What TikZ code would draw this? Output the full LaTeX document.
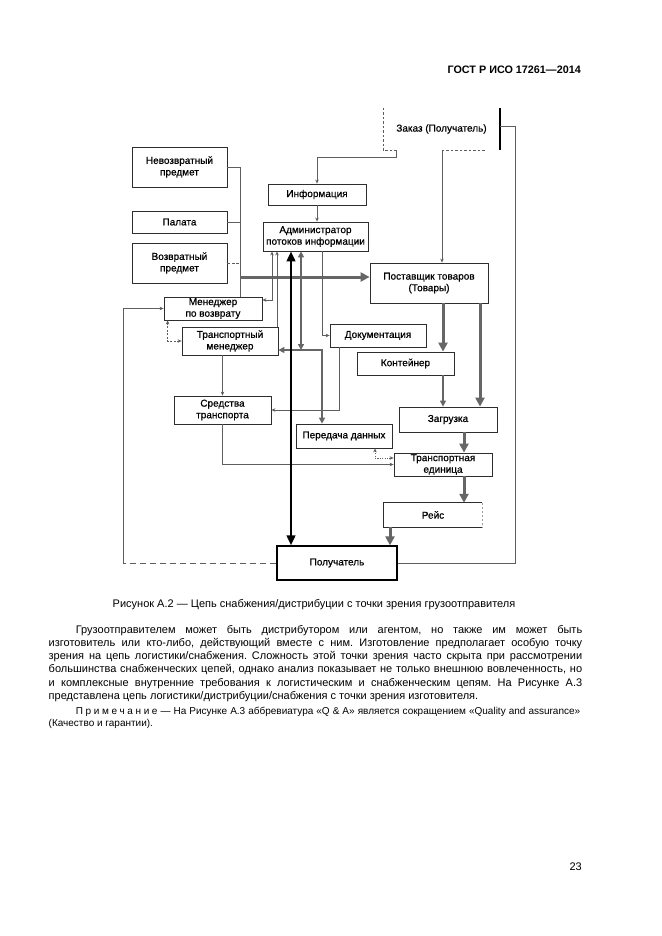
\documentclass[tikz,border=0pt]{standalone}
\usepackage{fontspec}
\setmainfont{Liberation Sans}
\newfontfamily\dfam{Liberation Sans}[FakeBold=0.7]
\usetikzlibrary{arrows.meta,calc}
\definecolor{boxc}{HTML}{2E2E2E}
\definecolor{linec}{HTML}{5E5E5E}
\definecolor{thickc}{HTML}{666666}
\newcommand\dfont{\dfam\fontsize{10}{11.6}\selectfont}
\newcommand\bodyf{\fontsize{11}{13.3}\selectfont}
\newcommand\notef{\fontsize{10}{11.5}\selectfont}
\newcommand\hdrf{\bfseries\fontsize{10.8}{13}\selectfont}
\newcommand\lsp{\kern2.6pt}
\frenchspacing
\begin{document}
\begin{tikzpicture}[x=1pt,y=-1pt,
 box/.style={draw=boxc,line width=0.8pt,inner sep=0pt,align=center,font=\dfont},
 txt/.style={inner sep=0pt},
 thinl/.style={draw=linec,line width=0.7pt},
 sarr/.style={thinl,-{Stealth[length=4pt,width=3.5pt]}},
 darr/.style={thinl,{Stealth[length=4pt,width=3.5pt]}-{Stealth[length=4pt,width=3.5pt]}},
 sarrback/.style={thinl,{Stealth[length=4pt,width=3.5pt]}-},
 blk/.style={line width=2.6pt,draw=black,{Triangle[length=10pt,width=8.5pt]}-{Triangle[length=10pt,width=8.5pt]}},
 medd/.style={line width=1.8pt,draw=thickc,{Triangle[length=6pt,width=6pt]}-{Triangle[length=6pt,width=6pt]}},
 bigg/.style={line width=3pt,draw=thickc,-{Triangle[length=9pt,width=9pt]}},
 medthin/.style={line width=1.2pt,draw=thickc,-{Triangle[length=6pt,width=6pt]}},
 gdash/.style={draw=linec,line width=0.6pt,dash pattern=on 2.5pt off 2pt}]
\fill[white] (0,0) rectangle (661,936);
\useasboundingbox (0,0) rectangle (661,936);

% ---------- boxes ----------
\node[inner sep=0pt,minimum width=117pt,minimum height=42pt,font=\dfont] (zakaz) at (441.5,129) {Заказ (Получатель)};
\node[box,minimum width=98pt,minimum height=21pt] (info) at (317,194.5) {Информация};
\node[box,minimum width=105pt,minimum height=29pt] (admin) at (315.5,236.5) {Администратор\\потоков информации};
\node[box,minimum width=95pt,minimum height=40pt] (nevoz) at (179.5,167) {Невозвратный\\предмет};
\node[box,minimum width=95pt,minimum height=22pt] (palata) at (179.5,222) {Палата};
\node[box,minimum width=95pt,minimum height=40pt] (voz) at (179.5,263) {Возвратный\\предмет};
\node[box,minimum width=118pt,minimum height=40pt] (postav) at (429,283) {Поставщик товаров\\(Товары)};
\node[box,minimum width=98pt,minimum height=23pt] (menvoz) at (213,308.5) {Менеджер\\по возврату};
\node[box,minimum width=96pt,minimum height=28pt] (transman) at (230,341) {Транспортный\\менеджер};
\node[box,minimum width=96pt,minimum height=23pt] (docum) at (378,335.5) {Документация};
\node[box,minimum width=97pt,minimum height=23pt] (kont) at (405.5,363.5) {Контейнер};
\node[box,minimum width=97pt,minimum height=28pt] (sredstva) at (222.5,410) {Средства\\транспорта};
\node[box,minimum width=96pt,minimum height=24pt] (peredacha) at (344,436) {Передача данных};
\node[box,minimum width=98pt,minimum height=25pt] (zagruz) at (448,419.5) {Загрузка};
\node[box,minimum width=98pt,minimum height=23pt] (transed) at (443,464.5) {Транспортная\\единица};
\node[inner sep=0pt,minimum width=98pt,minimum height=24pt,font=\dfont] (reis) at (433,515) {Рейс};
\node[box,draw=black,line width=1.3pt,minimum width=120pt,minimum height=34pt] (poluch) at (337,563) {Получатель};

% special borders
\draw[gdash] (zakaz.north west) -- (zakaz.south west) -- ++(15,0);
\draw[gdash] ([xshift=59pt]zakaz.south west) -- ([xshift=102pt]zakaz.south west);
\draw[line width=1.6pt,black] (zakaz.north east) -- (zakaz.south east);
\draw[draw=boxc,line width=0.8pt] (reis.north east) -- (reis.north west) -- (reis.south west) -- (reis.south east);
\draw[draw=linec!60,line width=0.6pt,dash pattern=on 2pt off 2pt] (reis.north east) -- (reis.south east);

% ---------- connectors ----------
\coordinate (a1) at ([xshift=14pt]zakaz.south west);
\draw[sarr] (a1) -- ++(0,7) -| (info.north);
\draw[sarr] (info.south) -- (info.south |- admin.north);
\coordinate (cz) at ([xshift=13pt]postav.north);
\draw[sarr] (cz |- zakaz.south) -- (cz);
\coordinate (dz) at ([yshift=3pt]zakaz.east);
\draw[thinl] (dz) -- ++(15,0) |- (poluch.east);

\coordinate (c1) at (240,167);
\draw[thinl] (nevoz.east) -- (c1);
\draw[thinl] (palata.east) -- (palata.east -| c1);
\draw[thinl,dash pattern=on 3pt off 1.5pt] (voz.east) -- (voz.east -| c1);
\draw[thinl] (c1) -- (c1 |- menvoz.north);
\coordinate (pw) at ([yshift=6pt]postav.west);
\draw[bigg] (pw -| c1) -- (pw);

\coordinate (g1) at ([xshift=-43.5pt]admin.south);
\coordinate (g2) at ([yshift=8.5pt]menvoz.east);
\draw[darr] (g1) |- (g2);
\coordinate (h1) at ([xshift=-38.5pt]admin.south);
\draw[sarrback] (h1) -- (h1 |- transman.north);
\coordinate (k1) at ([xshift=6.5pt]admin.south);
\draw[sarr] (k1) |- (docum.west);
\coordinate (l1) at ([xshift=-39pt]docum.south);
\draw[sarr] (l1) |- (sredstva.east);
\draw[sarr] (sredstva.north |- transman.south) -- (sredstva.north);
\coordinate (n1) at ([xshift=4pt]menvoz.south west);
\draw[darr,dash pattern=on 2pt off 1.5pt] (n1) |- (transman.west);
\coordinate (o1) at (123,563);
\draw[thinl,dash pattern=on 6pt off 4pt] (poluch.west) -- (o1);
\draw[sarr] (o1) |- (menvoz.west);
\draw[sarr] (sredstva.south) |- (transed.west);
\coordinate (q1) at ([xshift=31pt]peredacha.south);
\coordinate (q2) at ([yshift=6.5pt]transed.west);
\draw[darr,dash pattern=on 1.2pt off 1.2pt] (q1) |- (q2);

\coordinate (j0) at ([xshift=-14.5pt]admin.south);
\coordinate (j1) at (322,350);
\draw[medd] (j0) -- (j0 |- j1);
\draw[medd] (j1 -| transman.east) -- (j1) -- (j1 |- peredacha.north);
\coordinate (i1) at ([xshift=-24.5pt]admin.south);
\draw[blk] (i1) -- (i1 |- poluch.north);

\coordinate (r1) at ([xshift=14pt]postav.south);
\draw[bigg] (r1) -- (r1 |- kont.north);
\coordinate (s1) at ([xshift=51pt]postav.south);
\draw[bigg] (s1) -- (s1 |- zagruz.north);
\coordinate (t1) at ([xshift=37.5pt]kont.south);
\draw[medthin] (t1) -- (t1 |- zagruz.north);
\coordinate (u1) at ([xshift=16pt]zagruz.south);
\draw[bigg] (u1) -- (u1 |- transed.north);
\coordinate (v1) at ([xshift=21pt]transed.south);
\draw[bigg] (v1) -- (v1 |- reis.north);
\coordinate (w1) at ([xshift=-43pt]reis.south);
\draw[bigg] (w1) -- (w1 |- poluch.north);

% ---------- page text ----------
\node[txt,anchor=base east,font=\hdrf] (hdr) at (581,74) {ГОСТ Р ИСО 17261—2014};
\node[txt,anchor=base,font=\bodyf] (cap) at (314,607.5) {Рисунок А.2 — Цепь снабжения/дистрибуции с точки зрения грузоотправителя};
\node[txt,anchor=base west,font=\bodyf] (p1) at (75.7,633) {\makebox[506.3pt][s]{Грузоотправителем может быть дистрибутором или агентом, но также им может быть}};
\node[txt,anchor=base west,font=\bodyf] (p2) at (48.5,646.3) {\makebox[533.5pt][s]{изготовитель или кто-либо, действующий вместе с ним. Изготовление предполагает особую точку}};
\node[txt,anchor=base west,font=\bodyf] (p3) at (48.5,659.6) {\makebox[533.5pt][s]{зрения на цепь логистики/снабжения. Сложность этой точки зрения часто скрыта при рассмотрении}};
\node[txt,anchor=base west,font=\bodyf] (p4) at (48.5,672.9) {\makebox[533.5pt][s]{большинства снабженческих цепей, однако анализ показывает не только внешнюю вовлеченность, но}};
\node[txt,anchor=base west,font=\bodyf] (p5) at (48.5,686.2) {\makebox[533.5pt][s]{и комплексные внутренние требования к логистическим и снабженческим цепям. На Рисунке А.3}};
\node[txt,anchor=base west,font=\bodyf] (p6) at (48.5,699.5) {представлена цепь логистики/дистрибуции/снабжения с точки зрения изготовителя.};
\node[txt,anchor=base west,font=\notef] (n1t) at (75.7,714.5) {\makebox[504.3pt][s]{П\lsp р\lsp и\lsp м\lsp е\lsp ч\lsp а\lsp н\lsp и\lsp е — На Рисунке А.3 аббревиатура «Q \& A» является сокращением «Quality and assurance»}};
\node[txt,anchor=base west,font=\notef] (n2t) at (48.5,726) {(Качество и гарантии).};
\node[txt,anchor=base east,font=\bodyf] (pg) at (582,870) {23};
\end{tikzpicture}
\end{document}
